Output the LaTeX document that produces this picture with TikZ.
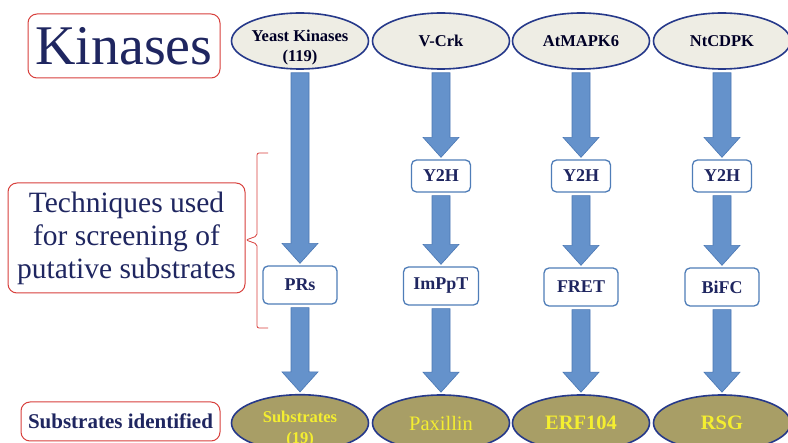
\documentclass[tikz,border=0pt]{standalone}
\usepackage{fontspec}
\setmainfont{Liberation Serif}
\usetikzlibrary{shapes.geometric,calc}
\definecolor{navy}{HTML}{1F2660}
\definecolor{kinborder}{HTML}{26398A}
\definecolor{kinfill}{HTML}{EEEDE4}
\definecolor{subfill}{HTML}{A89E66}
\definecolor{subtext}{HTML}{F4EE30}
\definecolor{arrfill}{HTML}{6592CB}
\definecolor{arrdraw}{HTML}{4A77B4}
\definecolor{boxdraw}{HTML}{4F7DB8}
\definecolor{redbox}{HTML}{D8403C}
\tikzset{
  kinase/.style = {ellipse, draw=kinborder, line width=1.6pt, fill=kinfill,
                   minimum width=137pt, minimum height=56pt, inner sep=0pt,
                   font=\fontsize{16.5}{18}\selectfont\bfseries,
                   text=black!85!blue, align=center},
  substrate/.style = {kinase, fill=subfill, text=subtext,
                      font=\fontsize{20.5}{22}\selectfont\bfseries},
  method/.style = {rectangle, rounded corners=5pt, draw=boxdraw,
                   line width=1.3pt, fill=white, minimum height=#1,
                   font=\fontsize{18}{20}\selectfont\bfseries, text=navy},
  method/.default = 32pt,
  heading/.style = {rectangle, rounded corners=9pt, draw=redbox,
                    line width=1pt, text=navy, align=center},
  blockarr/.style = {fill=arrfill, draw=arrdraw, line width=0.6pt}
}
% block arrow from the bottom of #1 to the top of #2
\newcommand{\blockarrow}[2]{%
  \path[blockarr] let \p1=(#1.south), \p2=(#2.north) in
    (\x1-9pt,\y1-3pt) -- (\x1+9pt,\y1-3pt) -- (\x1+9pt,\y2+22pt)
    -- (\x1+18pt,\y2+22pt) -- (\x1,\y2+2pt) -- (\x1-18pt,\y2+22pt)
    -- (\x1-9pt,\y2+22pt) -- cycle;}

\begin{document}
\begin{tikzpicture}[x=1pt, y=-1pt]
	\useasboundingbox (0,0) rectangle (788,443);
	\clip (0,0) rectangle (788,443);
	\fill[white] (0,0) rectangle (788,443);

	% Headings
	\node[heading, minimum width=192pt, minimum height=64pt,
	      font=\fontsize{56}{60}\selectfont] (kinhead) at (124,46) {Kinases};
	\node[heading, minimum width=237pt, minimum height=110pt,
	      font=\fontsize{29.5}{33}\selectfont] (techhead) at (126.5,238)
	      {Techniques used\\for screening of\\putative substrates};
	\node[heading, minimum width=199pt, minimum height=39pt,
	      font=\fontsize{21}{24}\selectfont\bfseries] (subhead) at (120.5,421.5)
	      {Substrates identified};

	% Brace
	\draw[redbox, line width=0.8pt, rounded corners=2pt]
	  (268,153) -- (257,153) -- (257,236) -- (246,240) -- (257,244)
	  -- (257,328) -- (268,328);

	% Kinases
	\node[kinase] (yeast)  at (300,41)
	  {\raisebox{-7pt}[\height][\depth]{\begin{tabular}{@{}c@{}}Yeast Kinases\\[2pt](119)\end{tabular}}};
	\node[kinase] (vcrk)   at (441,41) {V-Crk};
	\node[kinase] (atmapk) at (581,41) {AtMAPK6};
	\node[kinase] (ntcdpk) at (722,41) {NtCDPK};

	% Y2H
	\node[method, minimum width=59pt] (ytwoa) at (441,176) {Y2H};
	\node[method, minimum width=59pt] (ytwob) at (581,176) {Y2H};
	\node[method, minimum width=59pt] (ytwoc) at (722,176) {Y2H};

	% Techniques
	\node[method=38pt, minimum width=74pt] (prs)   at (300,285) {PRs};
	\node[method=38pt, minimum width=75pt] (imppt) at (441,286) {ImPpT};
	\node[method=38pt, minimum width=74pt] (fret)  at (581,287) {FRET};
	\node[method=38pt, minimum width=74pt] (bifc)  at (722,287) {BiFC};

	% Substrates
	\node[substrate, font=\fontsize{16.5}{19}\selectfont\bfseries] (subs) at (300,423)
	  {\raisebox{-6pt}[\height][\depth]{\begin{tabular}{@{}c@{}}Substrates\\[2pt](19)\end{tabular}}};
	\node[substrate, font=\fontsize{20.5}{22}\selectfont] (paxillin) at (441,423) {Paxillin};
	\node[substrate] (erf) at (581,423) {ERF104};
	\node[substrate] (rsg) at (722,423) {RSG};

	% Arrows
	\blockarrow{yeast}{prs}
	\blockarrow{prs}{subs}
	\blockarrow{vcrk}{ytwoa}
	\blockarrow{ytwoa}{imppt}
	\blockarrow{imppt}{paxillin}
	\blockarrow{atmapk}{ytwob}
	\blockarrow{ytwob}{fret}
	\blockarrow{fret}{erf}
	\blockarrow{ntcdpk}{ytwoc}
	\blockarrow{ytwoc}{bifc}
	\blockarrow{bifc}{rsg}
\end{tikzpicture}
\end{document}
